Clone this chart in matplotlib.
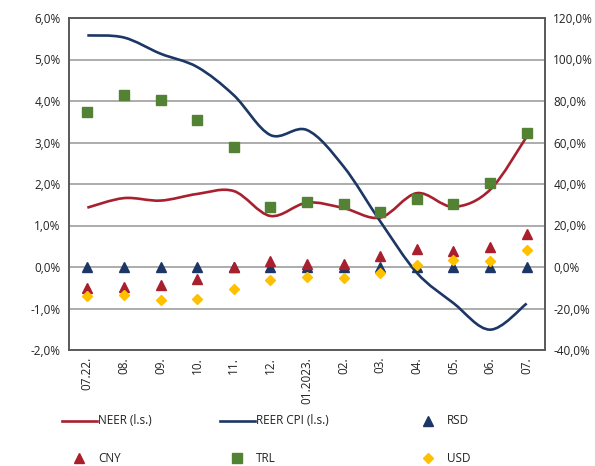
import numpy as np
import matplotlib
matplotlib.use("Agg")
import matplotlib.pyplot as plt
from matplotlib.path import Path
from matplotlib.patches import PathPatch
from matplotlib.lines import Line2D

plt.rcParams['font.family'] = ['Open Sans', 'DejaVu Sans']

months = ["07.22.", "08.", "09.", "10.", "11.", "12.", "01.2023.",
          "02.", "03.", "04.", "05.", "06.", "07."]

# left scale, %
neer = [1.43, 1.66, 1.60, 1.76, 1.83, 1.23, 1.55, 1.42, 1.19, 1.78, 1.45, 1.86, 3.14]
reer_cpi = [5.58, 5.53, 5.14, 4.82, 4.14, 3.18, 3.30, 2.42, 1.10, -0.14, -0.87, -1.51, -0.88]

# right scale, %
rsd = [0, 0, 0, 0, 0, 0, 0, 0, 0, 0, 0, 0, 0]
cny = [-10.1, -9.6, -8.7, -5.6, 0.0, 2.7, 1.6, 1.6, 5.4, 8.7, 7.5, 9.4, 15.9]
trl = [74.8, 82.8, 80.4, 70.8, 58.0, 29.1, 31.5, 30.4, 26.3, 32.7, 30.4, 40.7, 64.7]
usd = [-13.8, -13.6, -15.7, -15.2, -10.6, -6.1, -4.8, -5.3, -2.9, 1.1, 3.2, 2.7, 8.3]

RED = "#a8202e"
NAVY = "#1c3665"
GREEN = "#548235"
YELLOW = "#ffc000"
GRID = "#a6a6a6"
SPINE = "#595959"


def smooth_path(xs, ys):
    """Bezier path through the points, like Excel's smoothed line."""
    pts = np.column_stack([xs, ys]).astype(float)
    verts = [pts[0]]
    codes = [Path.MOVETO]
    n = len(pts)
    for i in range(n - 1):
        p0 = pts[max(i - 1, 0)]
        p1 = pts[i]
        p2 = pts[i + 1]
        p3 = pts[min(i + 2, n - 1)]
        c1 = p1 + (p2 - p0) / 6.0
        c2 = p2 - (p3 - p1) / 6.0
        verts += [c1, c2, p2]
        codes += [Path.CURVE4] * 3
    return Path(verts, codes)


fig = plt.figure(figsize=(5.95, 4.66), dpi=100)
ax = fig.add_axes([69 / 595, 1 - 350 / 466, 476 / 595, 332 / 466])
ax2 = ax.twinx()

x = np.arange(len(months))

ax.add_patch(PathPatch(smooth_path(x, neer), facecolor="none", edgecolor=RED, lw=1.9, zorder=3))
ax.add_patch(PathPatch(smooth_path(x, reer_cpi), facecolor="none", edgecolor=NAVY, lw=1.9, zorder=3))

ax2.plot(x, rsd, ls="none", marker="^", ms=7.0, color=NAVY, zorder=4)
ax2.plot(x, cny, ls="none", marker="^", ms=7.5, color=RED, zorder=5)
ax2.plot(x, trl, ls="none", marker="s", ms=7.2, color=GREEN, zorder=6)
ax2.plot(x, usd, ls="none", marker="D", ms=5.5, color=YELLOW, zorder=7)

ax.set_xlim(-0.5, len(months) - 0.5)
ax.set_ylim(-2, 6)
ax2.set_ylim(-40, 120)

ax.set_yticks(np.arange(-2, 7, 1))
ax.set_yticklabels([f"{v:.1f}%".replace(".", ",") for v in np.arange(-2, 7, 1)])
ax2.set_yticks(np.arange(-40, 121, 20))
ax2.set_yticklabels([f"{v:.1f}%".replace(".", ",") for v in np.arange(-40, 121, 20)])
ax.set_xticks(x)
ax.set_xticklabels(months, rotation=90)

ax.grid(axis="y", color=GRID, lw=1.3)
ax.set_axisbelow(True)
for a in (ax, ax2):
    a.tick_params(length=0, labelsize=8.5, colors="#222222", pad=6)
    for s in a.spines.values():
        s.set_color(SPINE)
        s.set_linewidth(1.2)
ax.tick_params(axis="x", pad=5)
ax2.tick_params(axis="y", pad=6)
ax.set_zorder(ax2.get_zorder() - 1)
ax2.patch.set_visible(False)

handles = [
    Line2D([], [], color=RED, lw=1.9),
    Line2D([], [], color=NAVY, lw=1.9),
    Line2D([], [], ls="none", marker="^", ms=7, color=NAVY),
    Line2D([], [], ls="none", marker="^", ms=7, color=RED),
    Line2D([], [], ls="none", marker="s", ms=7, color=GREEN),
    Line2D([], [], ls="none", marker="D", ms=5.5, color=YELLOW),
]
labels = ["NEER (l.s.)", "REER CPI (l.s.)", "RSD", "CNY", "TRL", "USD"]
positions = [(62, 421), (220, 421), (428, 421), (79, 458), (237, 458), (428, 458)]
text_x = [98, 256, 447, 98, 256, 447]
for h, lab, (px, py), tx in zip(handles, labels, positions, text_x):
    fy = 1 - py / 466
    if h.get_linestyle() == "-":
        fig.add_artist(Line2D([px / 595, (px + 35) / 595], [fy, fy], color=h.get_color(), lw=1.9))
    else:
        fig.add_artist(Line2D([px / 595], [fy], ls="none", marker=h.get_marker(),
                              ms=h.get_markersize(), color=h.get_color()))
    fig.text(tx / 595, fy, lab, fontsize=8.5, va="center", ha="left", color="#222222")

fig.savefig("out.png", dpi=100)
